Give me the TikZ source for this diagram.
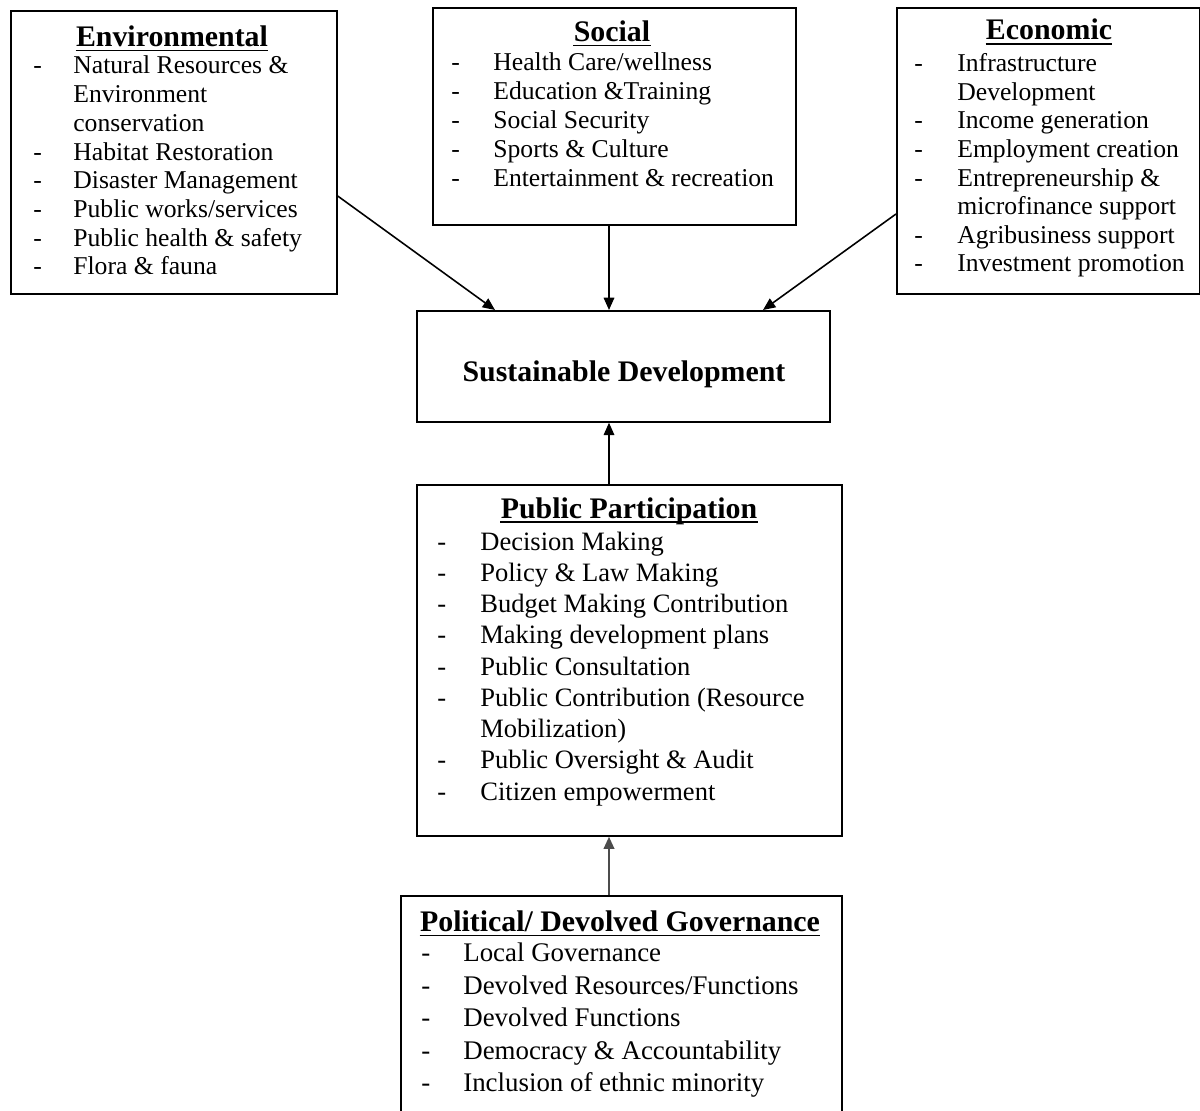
\documentclass[tikz,border=0pt]{standalone}
\usepackage{fontspec}
\setmainfont{Liberation Serif}
\usetikzlibrary{arrows.meta}

\tikzset{
  box/.style={draw, line width=1pt, anchor=north west, inner sep=0pt},
  head/.style={font=\fontsize{17}{20}\selectfont\bfseries, inner sep=0pt, anchor=base},
  entry/.style={font=\fontsize{#1}{#1}\selectfont, inner sep=0pt, anchor=base west},
  link/.style={line width=0.9pt, -{Triangle[length=7pt,width=6pt]}},
}

\begin{document}
\begin{tikzpicture}[x=0.02cm, y=-0.02cm]
\useasboundingbox (0,0) rectangle (1200,1111);
\clip (0,0) rectangle (1200,1111);

% the six boxes
\node[box, minimum width=6.52cm, minimum height=5.66cm] (env) at (10,10) {};
\node[box, minimum width=7.26cm, minimum height=4.34cm] (soc) at (432,7) {};
\node[box, minimum width=6.06cm, minimum height=5.72cm] (eco) at (896,7) {};
\node[box, minimum width=8.26cm, minimum height=2.22cm] (sd) at (416,310) {};
\node[box, minimum width=8.50cm, minimum height=7.02cm] (pp) at (416,484) {};
\node[box, minimum width=8.82cm, minimum height=4.70cm] (gov) at (400,895) {};

% headings
\node[head] (envtitle) at (172,46.5) {Environmental};
\node[head] (soctitle) at (612,41.7) {Social};
\node[head] (ecotitle) at (1049,40) {Economic};
\node[head] (pptitle) at (629,518) {Public Participation};
\node[head] (govtitle) at (620,931.7) {Political/ Devolved Governance};
\node[head] (sdtitle) at (624,381.5) {Sustainable Development};
\foreach \n in {envtitle,soctitle,ecotitle,pptitle,govtitle}
  \draw[line width=0.8pt] ([yshift=-2.3pt]\n.base west) -- ([yshift=-2.3pt]\n.base east);

% lists (1 = new item with dash, 0 = continued line)
\foreach \d/\t [count=\i from 0] in {1/{Natural Resources \&}, 0/Environment, 0/conservation,
    1/{Habitat Restoration}, 1/{Disaster Management}, 1/{Public works/services},
    1/{Public health \& safety}, 1/{Flora \& fauna}}{
  \node[entry=14.6] (env-\i) at (73,{74+\i*28.7}) {\t};
  \ifnum\d=1 \node[entry=14.6] (env-d\i) at (33,{74+\i*28.7}) {-};\fi
}
\foreach \t [count=\i from 0] in {{Health Care/wellness}, {Education \&Training},
    {Social Security}, {Sports \& Culture}, {Entertainment \& recreation}}{
  \node[entry=14.6] (soc-\i) at (493,{70.7+\i*29}) {\t};
  \node[entry=14.6] (soc-d\i) at (451,{70.7+\i*29}) {-};
}
\foreach \d/\t [count=\i from 0] in {1/Infrastructure, 0/Development, 1/{Income generation},
    1/{Employment creation}, 1/{Entrepreneurship \&}, 0/{microfinance support},
    1/{Agribusiness support}, 1/{Investment promotion}}{
  \node[entry=14.6] (eco-\i) at (957,{71.7+\i*28.6}) {\t};
  \ifnum\d=1 \node[entry=14.6] (eco-d\i) at (914,{71.7+\i*28.6}) {-};\fi
}
\foreach \d/\t [count=\i from 0] in {1/{Decision Making}, 1/{Policy \& Law Making},
    1/{Budget Making Contribution}, 1/{Making development plans}, 1/{Public Consultation},
    1/{Public Contribution (Resource}, 0/{Mobilization)}, 1/{Public Oversight \& Audit},
    1/{Citizen empowerment}}{
  \node[entry=15.1] (pp-\i) at (480,{550+\i*31.25}) {\t};
  \ifnum\d=1 \node[entry=15.1] (pp-d\i) at (437,{550+\i*31.25}) {-};\fi
}
\foreach \t [count=\i from 0] in {{Local Governance}, {Devolved Resources/Functions},
    {Devolved Functions}, {Democracy \& Accountability}, {Inclusion of ethnic minority}}{
  \node[entry=15.3] (gov-\i) at (463,{961.7+\i*32.5}) {\t};
  \node[entry=15.3] (gov-d\i) at (421,{961.7+\i*32.5}) {-};
}

% arrows
\draw[link] (env.east |- 0,196) -- (495,0 |- sd.north);
\draw[link] (609,0 |- soc.south) -- (609,0 |- sd.north);
\draw[link] (eco.west |- 0,214) -- (763,0 |- sd.north);
\draw[link] (609,0 |- pp.north) -- (609,0 |- sd.south);
\draw[link, line width=1.3pt, gray!60!black] (609,0 |- gov.north) -- (609,0 |- pp.south);
\end{tikzpicture}
\end{document}
